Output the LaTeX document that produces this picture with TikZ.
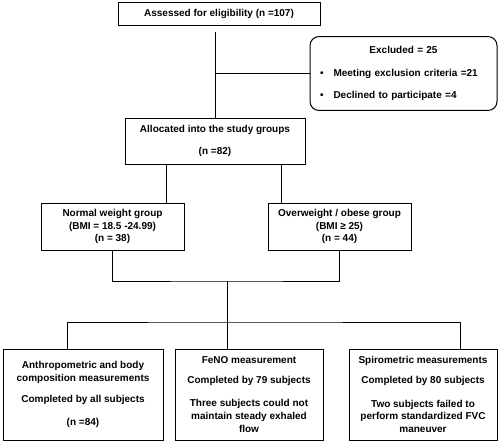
\documentclass[tikz,border=0pt]{standalone}
\usepackage{fontspec}
\setmainfont{Liberation Sans}
\usetikzlibrary{positioning}
\tikzset{
    box/.style={
        rectangle,
        draw,
        line width=1pt,
        align=center,
        inner sep=2pt,
        font=\bfseries\fontsize{10}{12.8}\selectfont
    },
    roundbox/.style={
        box,
        rounded corners=9pt,
        align=left
    },
    link/.style={
        line width=1pt
    }
}

\begin{document}
\begin{tikzpicture}[x=1pt,y=-1pt]
    \useasboundingbox (0,0) rectangle (500,445);

    % Nodes for enrolment
    \node (Assessed) [box, minimum width=202pt, minimum height=23pt] at (219,13.5) {Assessed for eligibility (n =107)};
    \node (Excluded) [roundbox, minimum width=187pt, minimum height=73pt, text width=167pt, inner sep=10pt] at (403.5,73.5) {%
        \makebox[\linewidth]{Excluded = 25}\\[9.5pt]
        \textbullet\hspace{10pt}Meeting exclusion criteria =21\\[9.5pt]
        \textbullet\hspace{10pt}Declined to participate =4};
    \node (Allocated) [box, minimum width=180pt, minimum height=46pt] at (215,141) {Allocated into the study groups\\[9.5pt] (n =82)};

    % Nodes for groups
    \node (Normal) [box, minimum width=143pt, minimum height=47pt] at (112.5,226.5) {Normal weight group\\ (BMI = 18.5 -24.99)\\ (n = 38)};
    \node (Overweight) [box, minimum width=143pt, minimum height=47pt] at (339.5,226.5) {Overweight / obese group\\ (BMI ≥ 25)\\ (n = 44)};

    % Nodes for measurements
    \node (Anthro) [box, minimum width=160pt, minimum height=91pt] at (83,394.5) {Anthropometric and body\\ composition measurements\\[8.5pt] Completed by all subjects\\[9.5pt] (n =84)};
    \node (FeNO) [box, minimum width=148pt, minimum height=91pt] at (249,394.5) {FeNO measurement\\[7.5pt] Completed by 79 subjects\\[10.5pt] Three subjects could not\\ maintain steady exhaled\\ flow};
    \node (Spiro) [box, minimum width=148pt, minimum height=91pt] at (423,394.5) {Spirometric measurements\\[7.5pt] Completed by 80 subjects\\[10.5pt] Two subjects failed to\\ perform standardized FVC\\ maneuver};

    \coordinate (JoinTop) at (227,281);
    \coordinate (JoinBottom) at (227,322);

    % Connectors
    \draw [link] ([yshift=-6pt]Assessed.south -| Allocated.north) -- (Allocated.north);
    \draw [link] (Excluded.west) -- (Excluded.west -| Allocated.north);
    \draw [link] ([xshift=-49pt]Allocated.south) -- ([xshift=-49pt]Allocated.south |- Normal.north);
    \draw [link] ([xshift=66pt]Allocated.south) -- ([xshift=66pt]Allocated.south |- Overweight.north);
    \draw [link] (Normal.south) |- (JoinTop) -| (Overweight.south);
    \draw [link] (JoinTop) -- (JoinTop |- FeNO.north);
    \draw [link] ([xshift=-16pt]Anthro.north) |- (JoinBottom) -| ([xshift=37pt]Spiro.north);

\end{tikzpicture}
\end{document}
